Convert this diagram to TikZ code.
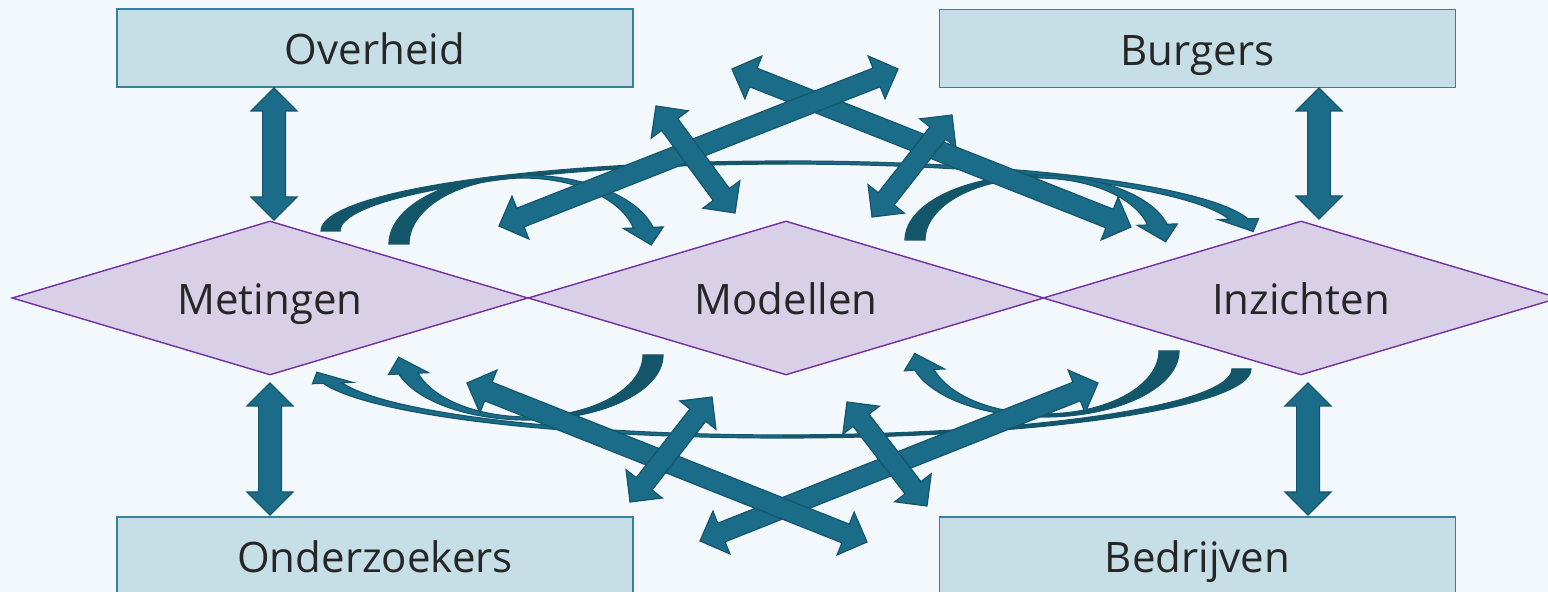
\documentclass[tikz,border=0pt]{standalone}
\usepackage{fontspec}
\setmainfont{Open Sans}
\usetikzlibrary{calc,shapes.geometric}
\definecolor{bg}{HTML}{F3F8FC}
\definecolor{boxfill}{HTML}{C6DEE5}
\definecolor{boxline}{HTML}{31849B}
\definecolor{diafill}{HTML}{D9D0E8}
\definecolor{dialine}{HTML}{7030A0}
\definecolor{arrfill}{HTML}{1A6C89}
\definecolor{arrline}{HTML}{14566B}
\definecolor{arrdark}{HTML}{145669}
\definecolor{txt}{HTML}{262626}
\tikzset{
  labeltext/.style={text=txt, font=\fontsize{21}{24}\selectfont, text height=19pt, text depth=2pt},
  actor/.style={rectangle, draw=boxline, fill=boxfill, line width=0.75pt,
    minimum width=258pt, minimum height=39pt, inner sep=0pt, labeltext},
  stage/.style={diamond, draw=dialine, fill=diafill, line width=0.7pt,
    minimum width=258pt, minimum height=77pt, aspect=3.35, inner sep=0pt, labeltext},
  blockarr/.style={fill=arrfill, draw=arrline, line width=0.6pt, line join=miter},
  curvline/.style={draw=arrline, line width=0.6pt, line join=miter},
}
% straight double block arrow: from, to, shaft half width, head half width, head length
\newcommand\blockarrow[5]{%
  \path ($(#1)!#5!(#2)$) coordinate (ba) ($(#2)!#5!(#1)$) coordinate (bb);
  \draw[blockarr] (#1) -- ($(ba)!#4!90:(#2)$) -- ($(ba)!#3!90:(#2)$)
    -- ($(bb)!#3!90:(#2)$) -- ($(bb)!#4!90:(#2)$) -- (#2)
    -- ($(bb)!#4!-90:(#2)$) -- ($(bb)!#3!-90:(#2)$)
    -- ($(ba)!#3!-90:(#2)$) -- ($(ba)!#4!-90:(#2)$) -- cycle;}
\def\curvhw{20}
\def\curvhl{19}
% curved arrow: cx, cy, rx, ry, tail width, top thickness, end angle, s (head side), v (bulge)
\newcommand\curvedarrow[9]{%
  \pgfmathsetmacro\cOx{#1+(#8)*(#3)*cos(#7)}%
  \pgfmathsetmacro\cOy{#2-(#9)*(#4)*sin(#7)}%
  \pgfmathsetmacro\cIx{#1+(#8)*(#3-#5)*cos(#7)}%
  \pgfmathsetmacro\cIy{#2-(#9)*(#4-#6)*sin(#7)}%
  \pgfmathsetmacro\cMx{(\cOx+\cIx)/2}%
  \pgfmathsetmacro\cMy{(\cOy+\cIy)/2}%
  \pgfmathsetmacro\cDx{(#8)*(#3-#5/2)*sin(#7)}%
  \pgfmathsetmacro\cDy{(#9)*(#4-#6/2)*cos(#7)}%
  \pgfmathsetmacro\cDl{veclen(\cDx,\cDy)}%
  \pgfmathsetmacro\cLo{veclen(\cOx-\cMx,\cOy-\cMy)}%
  \pgfmathsetmacro\cBOx{\cMx+\curvhw*(\cOx-\cMx)/\cLo}%
  \pgfmathsetmacro\cBOy{\cMy+\curvhw*(\cOy-\cMy)/\cLo}%
  \pgfmathsetmacro\cBIx{\cMx-\curvhw*(\cOx-\cMx)/\cLo}%
  \pgfmathsetmacro\cBIy{\cMy-\curvhw*(\cOy-\cMy)/\cLo}%
  \pgfmathsetmacro\cTx{\cMx+\curvhl*\cDx/\cDl}%
  \pgfmathsetmacro\cTy{\cMy+\curvhl*\cDy/\cDl}%
  \fill[arrfill] plot[domain=180:#7, samples=60] ({#1+(#8)*(#3)*cos(\x)},{#2-(#9)*(#4)*sin(\x)})
    -- (\cBOx,\cBOy) -- (\cTx,\cTy) -- (\cBIx,\cBIy)
    -- plot[domain=#7:180, samples=60] ({#1+(#8)*(#3-#5)*cos(\x)},{#2-(#9)*(#4-#6)*sin(\x)}) -- cycle;
  \fill[arrdark] plot[domain=180:90, samples=40] ({#1+(#8)*(#3)*cos(\x)},{#2-(#9)*(#4)*sin(\x)})
    -- plot[domain=90:180, samples=40] ({#1+(#8)*(#3-#5)*cos(\x)},{#2-(#9)*(#4-#6)*sin(\x)}) -- cycle;
  \draw[curvline] plot[domain=180:#7, samples=60] ({#1+(#8)*(#3)*cos(\x)},{#2-(#9)*(#4)*sin(\x)})
    -- (\cBOx,\cBOy) -- (\cTx,\cTy) -- (\cBIx,\cBIy)
    -- plot[domain=#7:180, samples=60] ({#1+(#8)*(#3-#5)*cos(\x)},{#2-(#9)*(#4-#6)*sin(\x)}) -- cycle;}
\begin{document}
\begin{tikzpicture}[x=0.5pt, y=-0.5pt]
  \useasboundingbox (0,0) rectangle (1548,592);
  \fill[bg] (0,0) rectangle (1548,592);

  % actors
  \node[actor] (overheid) at (375,48) {Overheid};
  \node[actor] (burgers) at (1197.5,48.5) {Burgers};
  \node[actor] (onderzoekers) at (375,556) {Onderzoekers};
  \node[actor] (bedrijven) at (1197.5,556) {Bedrijven};

  % stages
  \node[stage] (metingen) at (270,298) {Metingen};
  \node[stage] (modellen) at (786,298) {Modellen};
  \node[stage] (inzichten) at (1301,298) {Inzichten};

  % curved arrows (top)
  \curvedarrow{788}{231}{467}{70}{19}{3}{10}{1}{1}
  \curvedarrow{523}{244}{134}{69}{20}{3}{14}{1}{1}
  \curvedarrow{1038}{240}{133}{65}{20}{3}{14}{1}{1}
  % curved arrows (bottom)
  \curvedarrow{782}{369}{469}{69}{19}{3}{12}{-1}{-1}
  \curvedarrow{528}{355}{135}{65}{20}{3}{17}{-1}{-1}
  \curvedarrow{1044}{351}{135}{66}{20}{3}{17}{-1}{-1}

  % arrow end points
  \coordinate (v1a) at (274,88);   \coordinate (v1b) at (274,220);
  \coordinate (v2a) at (1319,88);  \coordinate (v2b) at (1319,219);
  \coordinate (v3a) at (270,383);  \coordinate (v3b) at (270,515);
  \coordinate (v4a) at (1308,383); \coordinate (v4b) at (1308,515);
  \coordinate (a1a) at (499,226);  \coordinate (a1b) at (898,69);
  \coordinate (a2a) at (732,69);   \coordinate (a2b) at (1131,227);
  \coordinate (s1a) at (656,106);  \coordinate (s1b) at (735,213);
  \coordinate (s2a) at (872,217);  \coordinate (s2b) at (952,115);
  \coordinate (b1a) at (467,383);  \coordinate (b1b) at (867,542);
  \coordinate (b2a) at (700,541);  \coordinate (b2b) at (1098,383);
  \coordinate (b3a) at (630,502);  \coordinate (b3b) at (712,397);
  \coordinate (b4a) at (847,402);  \coordinate (b4b) at (927,506);

  % vertical arrows
  \blockarrow{v1a}{v1b}{5.7pt}{11.5pt}{11.5pt}
  \blockarrow{v2a}{v2b}{5.7pt}{11.5pt}{11.5pt}
  \blockarrow{v3a}{v3b}{5.7pt}{11.5pt}{11.5pt}
  \blockarrow{v4a}{v4b}{5.7pt}{11.5pt}{11.5pt}

  % diagonal arrows
  \blockarrow{a2a}{a2b}{5pt}{11.5pt}{11.5pt}
  \blockarrow{a1a}{a1b}{5pt}{11.5pt}{11.5pt}
  \blockarrow{s1a}{s1b}{5pt}{11.5pt}{11.5pt}
  \blockarrow{s2a}{s2b}{5pt}{11.5pt}{11.5pt}
  \blockarrow{b2a}{b2b}{5pt}{11.5pt}{11.5pt}
  \blockarrow{b1a}{b1b}{5pt}{11.5pt}{11.5pt}
  \blockarrow{b3a}{b3b}{5pt}{11.5pt}{11.5pt}
  \blockarrow{b4a}{b4b}{5pt}{11.5pt}{11.5pt}
\end{tikzpicture}
\end{document}
